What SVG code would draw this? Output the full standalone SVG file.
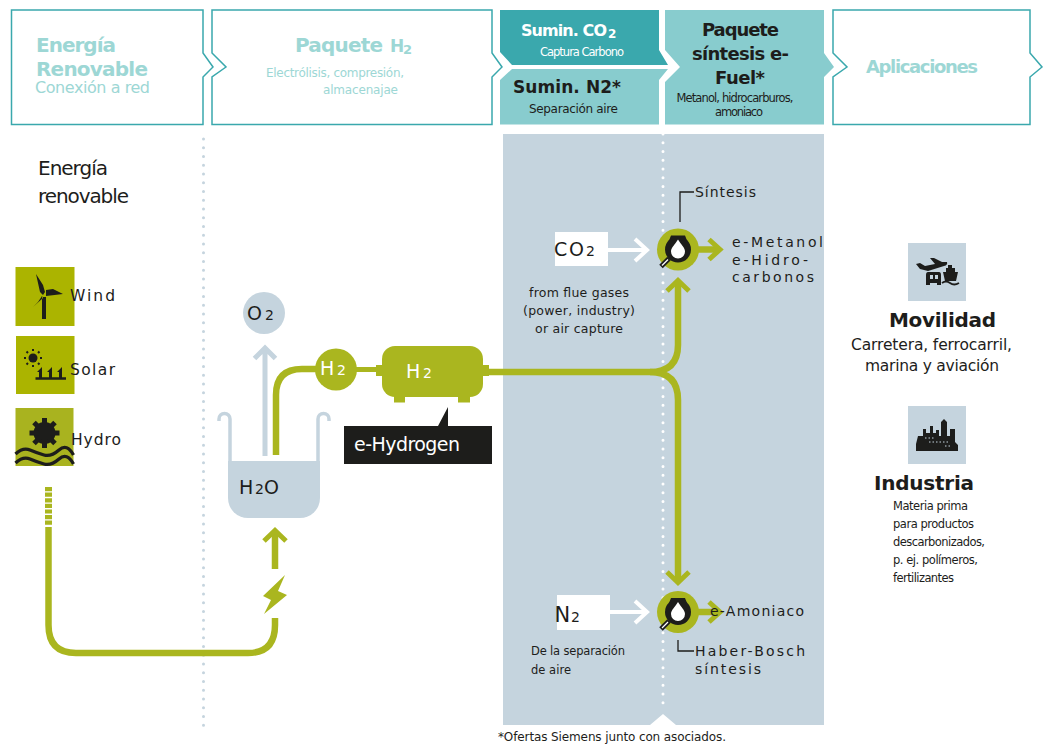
<svg xmlns="http://www.w3.org/2000/svg" width="1044" height="744" viewBox="0 0 1044 744">
<style>
text{font-family:"DejaVu Sans",Verdana,sans-serif;fill:#1d1d1b}
.b{font-weight:bold}
.hl{fill:#9dd7d5}
.w{fill:#fff}
.out{fill:#fff;stroke:#3aa8ad;stroke-width:1.5}
.pipe{fill:none;stroke:#aab61f;stroke-width:6.5}
.head{fill:none;stroke:#aab61f;stroke-width:5}
.wh{fill:none;stroke:#fff;stroke-width:4}
.gr{fill:none;stroke:#c5d4de}
.ln{fill:none;stroke:#1d1d1b;stroke-width:1.3}
.g{fill:#aab61f}
.k{fill:#1d1d1b}
.sp{letter-spacing:2px}
</style>
<defs>
<g id="syn">
<circle r="21" class="g"/>
<circle r="13" class="k"/>
<path d="M-7,-14H7L9,-9H-9Z" class="k"/>
<path d="M0,-10C3,-5 7,-2 7,2A7,7 0 0 1 -7,2C-7,-2 -3,-5 0,-10Z" fill="#fff"/>
<path d="M-9,9L-17,17" stroke="#1d1d1b" stroke-width="5" fill="none"/>
<path d="M-10,10L-16,16" stroke="#fff" stroke-width="1.2" fill="none"/>
</g>
</defs>

<g id="panel">
<path d="M503,134H824V725H676L663,714L650,725H503Z" fill="#c5d4de"/>
<path d="M663,134V708" fill="none" stroke="#fff" stroke-width="3" stroke-linecap="round" stroke-dasharray="0 8.75"/>
<path d="M203.5,139V726" fill="none" stroke="#c5d4de" stroke-width="3" stroke-linecap="round" stroke-dasharray="0 8.75"/>
</g>

<g id="head-renovable">
<path class="out" d="M11.5,10H203V53L213,67L203,77V124.5H11.5Z"/>
<text class="b hl" x="36" y="52" font-size="20" textLength="80">Energía</text>
<text class="b hl" x="36" y="76" font-size="20" textLength="112">Renovable</text>
<text class="hl" x="35" y="93" font-size="16" textLength="115">Conexión a red</text>
</g>
<g id="head-h2">
<path class="out" d="M212,10H492V53L502,67L492,77V124.5H212V77L226,67L212,53Z"/>
<text class="b hl" x="295" y="52" font-size="20" textLength="88">Paquete</text>
<text class="b hl" x="390" y="52" font-size="17" textLength="22">H<tspan font-size="13" dy="2">2</tspan></text>
<text class="hl" x="266" y="77" font-size="12" textLength="138">Electrólisis, compresión,</text>
<text class="hl" x="323" y="94" font-size="12" textLength="75">almacenajae</text>
</g>
<g id="head-co2">
<path d="M500,10H659V50L668,65H512L500,52Z" fill="#3aa8ad"/>
<text class="b w" x="521" y="36" font-size="16" textLength="86">Sumin. CO</text>
<text class="b w" x="608" y="38" font-size="12">2</text>
<text class="w" x="540" y="56" font-size="11.500" textLength="84">Captura Carbono</text>
</g>
<g id="head-n2">
<path d="M500,80L512,69H668L659,80V124.5H500Z" fill="#88ccce"/>
<text class="b" x="513" y="93" font-size="17" textLength="108">Sumin. N2*</text>
<text x="529" y="113" font-size="12" textLength="89">Separación aire</text>
</g>
<g id="head-fuel">
<path d="M665,10H824V53L834,67L824,77V124.5H665V82L680,67L665,50Z" fill="#88ccce"/>
<text class="b" x="740.500" y="36" font-size="18" text-anchor="middle" textLength="77">Paquete</text>
<text class="b" x="740.500" y="60" font-size="18" text-anchor="middle" textLength="97">síntesis e-</text>
<text class="b" x="740" y="84" font-size="18" text-anchor="middle" textLength="50">Fuel*</text>
<text x="735" y="102" font-size="11.500" text-anchor="middle" textLength="117">Metanol, hidrocarburos,</text>
<text x="739" y="116" font-size="11.500" text-anchor="middle" textLength="48">amoniaco</text>
</g>
<g id="head-apps">
<path class="out" d="M833,10H1030V53L1042,67L1030,77V124.5H833V77L847,67L833,53Z"/>
<text class="b hl" x="866" y="73" font-size="18" textLength="112">Aplicaciones</text>
</g>

<text x="38" y="175" font-size="20" textLength="70">Energía</text>
<text x="38" y="203" font-size="20" textLength="91">renovable</text>

<g id="connectors">
<path d="M48.500,487V526" fill="none" stroke="#aab61f" stroke-width="7" stroke-dasharray="4.200 1.400"/>
<path class="pipe" d="M48.500,527V625Q48.500,653 76,653H248Q275,653 275,625V618"/>
<path class="pipe" d="M275,569V532"/>
<path class="head" d="M264,541L275,530.500L286,541"/>
<path class="g" d="M285,575L263,596L271,600L264,614L287,595L278,591Z"/>
<path class="gr" stroke-width="5" d="M265,456V349M254.500,358.500L265,348L275.500,358.500"/>
<path class="pipe" d="M276,455V395Q276,369 302,369H320"/>
<path d="M354,369.500H378" stroke="#aab61f" stroke-width="5" fill="none"/>
<path class="pipe" d="M485,372H650Q678,372 678,345V282"/>
<path class="head" d="M667,291L678,280.500L689,291"/>
<path class="pipe" d="M650,372Q678,372 678,400V580"/>
<path class="head" d="M667,572L678,582.500L689,572"/>
<path class="wh" d="M608,250H647M635,239L647,250L635,261"/>
<path class="wh" d="M610,612H647M635,601L647,612L635,623"/>
<path class="pipe" d="M698,249.500H719"/>
<path class="head" d="M709,239.500L720,249.500L709,259.500"/>
<path class="pipe" d="M698,612H719"/>
<path class="head" d="M709,602L720,612L709,622"/>
<path class="ln" d="M680,222V192H694"/>
<path class="ln" d="M678,640V651H694"/>
</g>

<g id="wind">
<rect x="15.500" y="267" width="59" height="59" fill="#abb400"/>
<path class="k" d="M36,274L43,285L45,292L43,295L40,292ZM46,290L53,289L63,294L46,296ZM42,296L38,302L33,307L43,298ZM42,297H46V319H42Z"/>
<text x="70" y="301" font-size="15.500" class="sp" textLength="47">Wind</text>
</g>
<g id="solar">
<rect x="16" y="336" width="58.500" height="58" fill="#abb400"/>
<circle cx="33" cy="358" r="4.500" class="k"/>
<path d="M33,349V351M33,365V367M24,358H26M40,358H42M26.500,351.500L28,353M38,363L39.500,364.500M39.500,351.500L38,353M28,363L26.500,364.500" stroke="#1d1d1b" stroke-width="2" fill="none"/>
<path d="M35.500,378.500H66" stroke="#1d1d1b" stroke-width="2.500" fill="none"/>
<path class="k" d="M39,378V372L37,372L42,367L42,378ZM49,378V372L47,372L52,367L52,378ZM59,378V372L57,372L62,367L62,378Z"/>
<text x="70" y="375" font-size="15.500" class="sp" textLength="47">Solar</text>
</g>
<g id="hydro">
<rect x="15.500" y="408" width="58" height="58" fill="#a9b31f"/>
<circle cx="44.500" cy="433" r="11" class="k"/>
<path d="M44.500,418V448M29.500,433H59.500M34,422.500L55,443.500M55,422.500L34,443.500" stroke="#1d1d1b" stroke-width="5" fill="none"/>
<path d="M15.500,454Q23,447 30,450T44,455T59,450T73.500,455M15.500,463Q23,456 30,459T44,464T59,459T73.500,464" stroke="#1d1d1b" stroke-width="3.300" fill="none"/>
<text x="71" y="445" font-size="15.500" class="sp" textLength="52">Hydro</text>
</g>

<g id="beaker">
<path d="M228,461H320V498A20,20 0 0 1 300,518H248A20,20 0 0 1 228,498Z" fill="#c5d4de"/>
<path class="gr" stroke-width="3.500" d="M230,461V419A5.500,5.500 0 0 0 219,419V421M318,461V419A5.500,5.500 0 0 1 329,419V421"/>
<text y="494" font-size="19"><tspan x="239">H</tspan><tspan x="255" font-size="14">2</tspan><tspan x="264">O</tspan></text>
</g>
<g id="o2">
<circle cx="264" cy="313" r="21" fill="#c5d4de"/>
<text y="320" font-size="19"><tspan x="247">O</tspan><tspan x="265" font-size="14">2</tspan></text>
</g>
<g id="h2">
<circle cx="336" cy="369.500" r="21" class="g"/>
<text class="w" y="375" font-size="19"><tspan x="320">H</tspan><tspan x="337" font-size="14">2</tspan></text>
</g>
<g id="tank">
<rect x="376" y="365" width="113" height="11" class="g"/>
<rect x="394" y="392" width="11" height="10.500" class="g"/>
<rect x="458" y="392" width="12" height="10.500" class="g"/>
<rect x="382" y="346" width="101" height="51" rx="13" class="g"/>
<text class="w" y="378" font-size="19"><tspan x="406">H</tspan><tspan x="423" font-size="14">2</tspan></text>
</g>
<g id="callout">
<path d="M344,426H438L448,407V426H492V464H344Z" class="k"/>
<text class="w" x="354" y="451" font-size="19" textLength="106">e-Hydrogen</text>
</g>

<g id="co2">
<rect x="555" y="232" width="53" height="34" fill="#fff"/>
<text y="256" font-size="19"><tspan x="554">C</tspan><tspan x="569">O</tspan><tspan x="586" font-size="14">2</tspan></text>
<text x="579" y="297" font-size="12.500" text-anchor="middle" textLength="100">from flue gases</text>
<text x="579" y="315" font-size="12.500" text-anchor="middle" textLength="112">(power, industry)</text>
<text x="579" y="333" font-size="12.500" text-anchor="middle" textLength="88">or air capture</text>
</g>
<g id="n2">
<rect x="557" y="595" width="53" height="35" fill="#fff"/>
<text y="622" font-size="21"><tspan x="554.500">N</tspan><tspan x="571" font-size="14">2</tspan></text>
<text x="531" y="655" font-size="11.500" textLength="94">De la separación</text>
<text x="531" y="674" font-size="11.500" textLength="40">de aire</text>
</g>
<g id="sintesis">
<use href="#syn" x="678" y="249.500"/>
<text x="695" y="197" font-size="14" textLength="61">Síntesis</text>
<text x="732" y="247" font-size="14" textLength="91">e-Metanol</text>
<text x="732" y="265" font-size="14" textLength="76">e-Hidro-</text>
<text x="732" y="282" font-size="14" textLength="82">carbonos</text>
</g>
<g id="haber">
<use href="#syn" x="678" y="612"/>
<text x="710" y="616" font-size="14" textLength="94">e-Amoniaco</text>
<text x="695" y="656" font-size="14" textLength="110">Haber-Bosch</text>
<text x="695" y="674" font-size="14" textLength="66">síntesis</text>
</g>

<g id="movilidad">
<rect x="908" y="243" width="58" height="58" fill="#c5d4de"/>
<path class="k" d="M916,264L920,263L925,266L935,264L930,258L934,258L942,262L947,262Q948,265 944,266L928,271L920,269Z"/>
<path class="k" d="M928,272Q926,272 926,275V285H930V283H937V285H941V275Q941,272 939,272Z"/>
<path d="M930,275H933V279H930ZM935,275H938V279H935Z" fill="#c5d4de"/>
<path class="k" d="M948,265H952V268H955V272H958L956,281H945L943,272H946V268H948Z"/>
<path d="M942,283Q946,280 950,283T959,283" stroke="#1d1d1b" stroke-width="1.800" fill="none"/>
<text class="b" x="889" y="327" font-size="20" textLength="107">Movilidad</text>
<text x="851" y="350" font-size="15.500" textLength="161">Carretera, ferrocarril,</text>
<text x="865" y="371" font-size="15.500" textLength="134">marina y aviación</text>
</g>
<g id="industria">
<rect x="908" y="406" width="58" height="58" fill="#c5d4de"/>
<path class="k" d="M916,451V444L918,436H923V429H926V433H930V426H933V433H936V430H939V436H941V422L944,419L947,422V436H950V429H955V442L958,445V451Z"/>
<path d="M925,438H935M929,442H948M945,446H950" stroke="#c5d4de" stroke-width="1" stroke-dasharray="1.500 2" fill="none"/>
<text class="b" x="874" y="490" font-size="20" textLength="100">Industria</text>
<text x="893" y="510" font-size="11.500" textLength="75">Materia prima</text>
<text x="893" y="528" font-size="11.500" textLength="81">para productos</text>
<text x="893" y="546" font-size="11.500" textLength="92">descarbonizados,</text>
<text x="893" y="564" font-size="11.500" textLength="85">p. ej. polímeros,</text>
<text x="893" y="582" font-size="11.500" textLength="61">fertilizantes</text>
</g>
<text x="498" y="741" font-size="12" textLength="228">*Ofertas Siemens junto con asociados.</text>
</svg>
